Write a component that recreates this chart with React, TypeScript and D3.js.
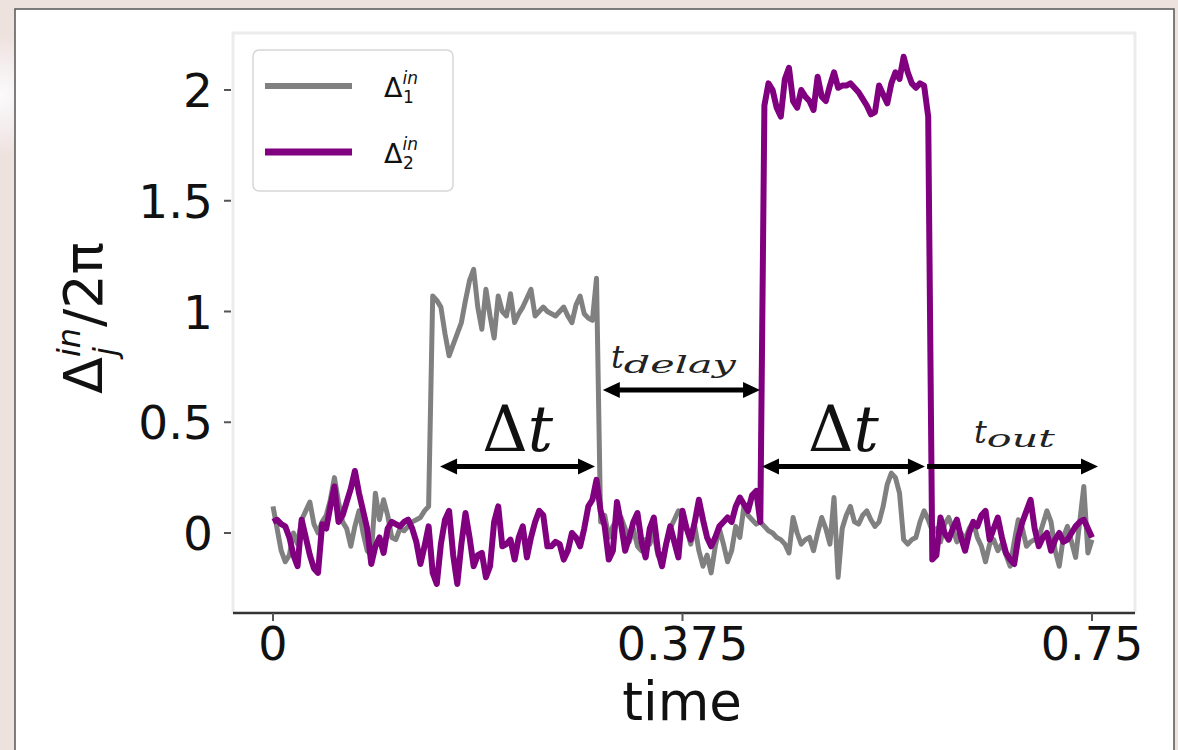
import React from 'react'
import * as d3 from 'd3'

// sampled time grid (0 .. 0.75)
const times = d3.range(201).map(i => i * 0.00375)

const delta1 = [
  0.12, 0.02, -0.08, -0.13, -0.1, 0.0, -0.05, 0.06, 0.1, 0.14,
  0.04, 0.0, 0.05, 0.08, 0.15, 0.25, 0.14, 0.05, 0.02, -0.06,
  0.03, 0.1, 0.0, -0.08, -0.1, 0.18, 0.06, 0.15, 0.08, -0.02,
  -0.03, 0.02, 0.01, 0.03, 0.05, 0.06, 0.07, 0.1, 0.12, 1.07,
  1.05, 1.02, 0.9, 0.8, 0.85, 0.9, 0.95, 1.05, 1.14, 1.19,
  1.02, 0.92, 1.1, 0.98, 0.88, 1.07, 1.0, 0.98, 1.08, 0.95,
  0.99, 1.02, 1.06, 1.1, 0.98, 1.0, 1.02, 1.0, 0.99, 0.98,
  1.0, 1.02, 0.98, 0.95, 1.03, 1.07, 0.99, 0.97, 0.96, 1.15,
  0.05, 0.08, -0.02, 0.03, 0.06, 0.07, 0.02, -0.04, 0.02, -0.06,
  -0.08, -0.03, -0.05, 0.0, -0.1, -0.13, -0.05, 0.02, 0.06, 0.1,
  0.08, 0.02, -0.05, 0.03, -0.08, -0.15, -0.1, -0.18, -0.06, 0.02,
  -0.05, -0.13, -0.08, 0.03, -0.02, 0.12, 0.08, 0.06, 0.04, 0.05,
  0.03, 0.01, 0.0, -0.02, -0.03, -0.05, -0.09, 0.07, 0.0, -0.05,
  -0.03, -0.02, -0.08, 0.0, 0.07, 0.02, -0.05, 0.16, -0.2, 0.02,
  0.08, 0.12, 0.05, 0.04, 0.08, 0.1, 0.06, 0.03, 0.05, 0.12,
  0.22, 0.27, 0.25, 0.18, -0.03, -0.05, -0.03, -0.02, 0.05, 0.1,
  0.06, 0.01, 0.02, -0.04, 0.04, 0.07, 0.02, -0.04, 0.0, -0.03,
  0.02, 0.05, -0.02, -0.06, -0.13, -0.05, -0.03, -0.08, -0.05, -0.1,
  -0.15, -0.04, 0.06, 0.02, -0.06, -0.04, -0.03, -0.02, 0.04, 0.1,
  0.05, -0.08, -0.15, -0.02, 0.03, -0.04, -0.11, 0.05, 0.21, -0.09,
  -0.03,
]

const delta2 = [
  0.05, 0.06, 0.04, 0.03, -0.02, -0.1, -0.15, 0.06, -0.02, -0.1,
  -0.16, -0.18, 0.04, 0.02, 0.12, 0.21, 0.05, 0.08, 0.14, 0.2,
  0.28, 0.18, 0.1, 0.02, -0.14, -0.06, -0.02, -0.09, 0.02, 0.05,
  0.04, 0.03, 0.05, 0.06, 0.02, -0.04, -0.14, -0.06, 0.03, -0.18,
  -0.23, -0.05, 0.06, 0.1, -0.1, -0.23, -0.05, 0.09, -0.02, -0.15,
  -0.1, -0.09, -0.2, -0.15, 0.05, 0.12, -0.06, -0.05, -0.03, -0.12,
  -0.02, 0.03, -0.11, -0.02, 0.05, 0.1, 0.08, -0.06, -0.06, -0.04,
  -0.05, -0.12, -0.08, 0.0, -0.02, -0.06, 0.02, 0.12, 0.15, 0.24,
  0.1, 0.03, -0.12, -0.08, 0.14, 0.04, -0.08, -0.02, 0.05, 0.09,
  -0.04, -0.11, 0.02, 0.07, -0.08, -0.15, -0.05, 0.03, -0.04, -0.11,
  0.1, 0.02, -0.03, 0.05, 0.15, 0.06, -0.02, -0.06, -0.02, 0.03,
  0.05, 0.07, 0.05, 0.12, 0.16, 0.13, 0.1, 0.17, 0.19, 0.05,
  1.93, 2.03, 2.0, 1.92, 1.88, 2.05, 2.1, 1.95, 1.92, 2.0,
  1.97, 1.95, 1.91, 2.06, 1.97, 1.95, 2.02, 2.08, 2.01, 2.02,
  2.02, 2.03, 2.01, 1.99, 1.96, 1.93, 1.89, 1.9, 2.02, 1.98,
  1.94, 2.03, 2.08, 2.05, 2.15, 2.08, 2.03, 2.01, 2.03, 2.02,
  1.88, -0.12, -0.1, 0.07, 0.0, -0.03, 0.02, 0.06, -0.02, -0.08,
  0.0, 0.05, 0.03, 0.08, 0.1, -0.03, 0.02, 0.07, -0.02, -0.09,
  -0.12, -0.14, -0.02, 0.05, 0.1, 0.15, 0.02, -0.06, -0.02, 0.0,
  -0.08, -0.03, 0.0, -0.04, -0.03, 0.0, 0.03, 0.05, 0.06, 0.02,
  -0.02,
]

const xTicks = [0, 0.375, 0.75]
const xTickLabels = ['0', '0.375', '0.75']
const yTicks = [0, 0.5, 1, 1.5, 2]
const yTickLabels = ['0', '0.5', '1', '1.5', '2']

// annotation arrows, in data units: [t start, t end, level]
const arrowStarts = [0.153, 0.302, 0.4478, 0.599]
const arrowEnds = [0.2949, 0.446, 0.597, 0.7555]
const arrowLevels = [0.3, 0.646, 0.3, 0.3]
const arrowBothHeads = [true, true, true, false]

const GRAY = '#808080'
const PURPLE = '#800080'
const SANS = 'DejaVu Sans, sans-serif'
const SERIF = 'DejaVu Serif, serif'

const x = d3.scaleLinear().domain([0, 0.75]).range([273, 1092])
const y = d3.scaleLinear().domain([0, 2]).range([533, 90])

const line = d3.line<number>()
  .x((_, i) => x(times[i]))
  .y(d => y(d))

const Arrow = ({ x1, x2, yy, both }: { x1: number, x2: number, yy: number, both: boolean }) => {
  const hl = 17, hw = 8
  return (
    <g fill='#000'>
      <line x1={both ? x1 + hl - 2 : x1} x2={x2 - hl + 2} y1={yy} y2={yy} stroke='#000' strokeWidth={5} />
      {both && <path d={`M${x1},${yy} L${x1 + hl},${yy - hw} L${x1 + hl},${yy + hw} Z`} />}
      <path d={`M${x2},${yy} L${x2 - hl},${yy - hw} L${x2 - hl},${yy + hw} Z`} />
    </g>
  )
}

const App = () => {
  const left = 233, right = 1135, top = 33, bottom = 613
  const arrows = arrowStarts.map((s, i) => ({
    x1: x(s), x2: x(arrowEnds[i]), yy: y(arrowLevels[i]), both: arrowBothHeads[i],
  }))
  const mid = (i: number) => (arrows[i].x1 + arrows[i].x2) / 2

  return (
    <div style={{ position: 'absolute', left: 0, top: 0 }}>
      <svg width={1178} height={750} style={{ display: 'block' }}>
        <defs>
          <radialGradient id='glow' cx='0' cy='95' r='60' gradientUnits='userSpaceOnUse'>
            <stop offset='0' stopColor='#fbfbfd' />
            <stop offset='1' stopColor='#eee2df' />
          </radialGradient>
        </defs>
        <rect width={1178} height={750} fill='#eee2df' />
        <rect x={0} y={20} width={15} height={160} fill='url(#glow)' />
        <rect x={15} y={9} width={1159} height={760} fill='#fff' stroke='#555' strokeWidth={1.5} />

        {/* axes frame */}
        <path d={`M${left},${bottom} L${left},${top} L${right},${top} L${right},${bottom}`}
          fill='none' stroke='#ececec' strokeWidth={3} />

        {/* data */}
        <path d={line(delta1) || ''} fill='none' stroke={GRAY} strokeWidth={5} strokeLinejoin='round' />
        <path d={line(delta2) || ''} fill='none' stroke={PURPLE} strokeWidth={6} strokeLinejoin='round' />

        <line x1={left} x2={right} y1={bottom} y2={bottom} stroke='#333' strokeWidth={2.5} />

        {/* y axis */}
        {yTicks.map((t, i) => (
          <g key={t}>
            <line x1={224} x2={231} y1={y(t)} y2={y(t)} stroke='#555' strokeWidth={2} />
            <text x={213} y={y(t) + 17} textAnchor='end' fontFamily={SANS} fontSize={47} fill='#111'>
              {yTickLabels[i]}
            </text>
          </g>
        ))}
        {/* x axis */}
        {xTicks.map((t, i) => (
          <g key={t}>
            <line x1={x(t)} x2={x(t)} y1={bottom} y2={bottom + 8} stroke='#555' strokeWidth={2} />
            <text x={x(t)} y={660} textAnchor='middle' fontFamily={SANS} fontSize={46} fill='#111'>
              {xTickLabels[i]}
            </text>
          </g>
        ))}
        <text x={682} y={720} textAnchor='middle' fontFamily={SANS} fontSize={53} fill='#111'>time</text>

        <text transform='translate(102,318) rotate(-90)' textAnchor='middle' fontFamily={SANS} fontSize={54} fill='#111'>
          Δ
          <tspan fontSize={32} fontStyle='italic' dy={-22}>in</tspan>
          <tspan fontSize={32} fontStyle='italic' dx={-28} dy={36}>j</tspan>
          <tspan dx={20} dy={-14}>/2π</tspan>
        </text>

        {/* legend */}
        <rect x={253} y={50} width={200} height={141} rx={6} fill='#fff' stroke='#d6d6d6' strokeWidth={1.5} />
        <line x1={265} x2={352} y1={86} y2={86} stroke={GRAY} strokeWidth={6} />
        <line x1={265} x2={352} y1={152} y2={152} stroke={PURPLE} strokeWidth={7} />
        {['1', '2'].map((s, i) => (
          <text key={s} x={384} y={97 + i * 66} fontFamily={SANS} fontSize={27} fill='#111'>
            Δ
            <tspan fontSize={17} fontStyle='italic' dy={-13}>in</tspan>
            <tspan fontSize={17} dx={-15} dy={19}>{s}</tspan>
          </text>
        ))}

        {/* annotations */}
        {arrows.map((a, i) => <Arrow key={i} {...a} />)}
        {[0, 2].map(i => (
          <text key={i} x={mid(i)} y={451} textAnchor='middle' fontFamily={SERIF} fontSize={63} fill='#111'>
            Δ<tspan fontStyle='italic'>t</tspan>
          </text>
        ))}
        <text x={611} y={368} fontFamily={SERIF} fontStyle='italic' fontSize={32} fill='#222'>
          t<tspan fontSize={25} dy={5} textLength={112} lengthAdjust='spacingAndGlyphs'>delay</tspan>
        </text>
        <text x={974} y={443} fontFamily={SERIF} fontStyle='italic' fontSize={32} fill='#222'>
          t<tspan fontSize={25} dy={4} textLength={68} lengthAdjust='spacingAndGlyphs'>out</tspan>
        </text>
      </svg>
    </div>
  )
}

export default App
